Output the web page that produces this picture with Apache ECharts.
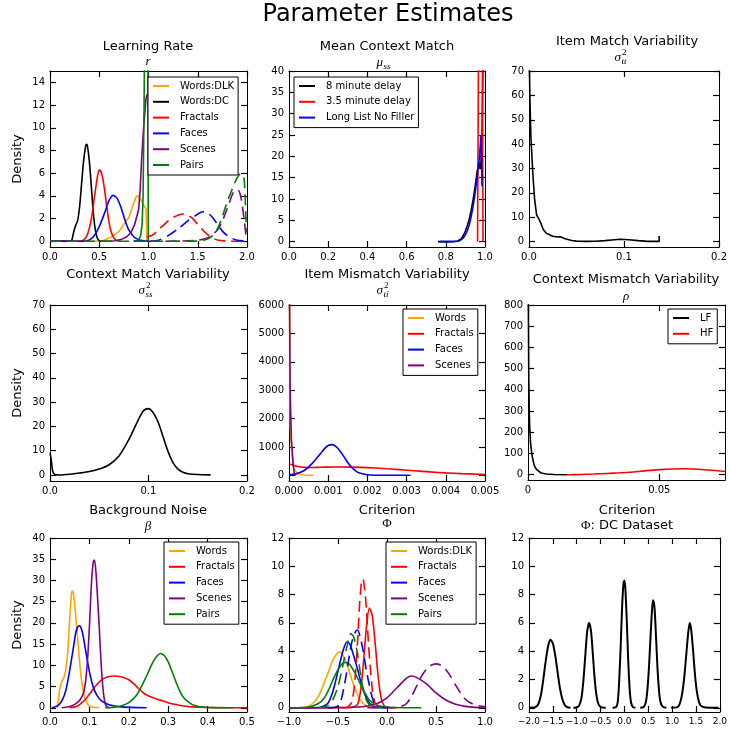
<!DOCTYPE html>
<html><head><meta charset="utf-8">
<script src="https://cdn.jsdelivr.net/npm/echarts@6/dist/echarts.min.js"></script>
<style>html,body{margin:0;padding:0;background:#fff}#c{width:730px;height:733px}</style>
</head><body><div id="c"></div><script>
// ---------------- DATA ----------------
const mainTitle = 'Parameter Estimates';
const panelTitles = ['Learning Rate','Mean Context Match','Item Match Variability','Context Match Variability','Item Mismatch Variability','Context Mismatch Variability','Background Noise','Criterion','Criterion'];

// tick values
const lrXTicks = [0,0.5,1,1.5,2];            const lrYTicks = [0,2,4,6,8,10,12,14];
const mcXTicks = [0,0.2,0.4,0.6,0.8,1];      const mcYTicks = [0,5,10,15,20,25,30,35,40];
const imXTicks = [0,0.1,0.2];                const imYTicks = [0,10,20,30,40,50,60,70];
const cmXTicks = [0,0.1,0.2];                const cmYTicks = [0,10,20,30,40,50,60,70];
const immXTicks = [0,0.001,0.002,0.003,0.004,0.005]; const immYTicks = [0,1000,2000,3000,4000,5000,6000];
const cmmXTicks = [0,0.05];                  const cmmYTicks = [0,100,200,300,400,500,600,700,800];
const bnXTicks = [0,0.1,0.2,0.3,0.4,0.5];    const bnYTicks = [0,5,10,15,20,25,30,35,40];
const crXTicks = [-1,-0.5,0,0.5,1];          const crYTicks = [0,2,4,6,8,10,12];
const dcXTicks = [-2,-1.5,-1,-0.5,0,0.5,1,1.5,2]; const dcYTicks = [0,2,4,6,8,10,12];

// legends
const lrLegend = ['Words:DLK','Words:DC','Fractals','Faces','Scenes','Pairs'];
const mcLegend = ['8 minute delay','3.5 minute delay','Long List No Filler'];
const immLegend = ['Words','Fractals','Faces','Scenes'];
const cmmLegend = ['LF','HF'];
const bnLegend = ['Words','Fractals','Faces','Scenes','Pairs'];
const crLegend = ['Words:DLK','Fractals','Faces','Scenes','Pairs'];

// Learning rate
const lrWordsDLK = [[0,0],[0.5,0],[0.55,0.1],[0.6,0.3],[0.65,0.55],[0.7,0.85],[0.75,1.5],[0.8,2.1],[0.84,3.1],[0.87,3.85],[0.89,4.05],[0.92,3.7],[0.95,3.2],[0.975,2.85],[0.985,0]];
const lrWordsDC = [[0,0],[0.2,0],[0.22,0.05],[0.24,0.8],[0.26,1.4],[0.28,1.8],[0.3,3.0],[0.32,5.0],[0.34,7.0],[0.36,8.3],[0.37,8.55],[0.38,8.4],[0.4,7.0],[0.42,4.8],[0.44,2.5],[0.46,1.0],[0.48,0.3],[0.5,0.05],[0.52,0],[0.6,0]];
const lrFractals = [[0,0],[0.3,0],[0.34,0.1],[0.38,0.6],[0.42,2.0],[0.45,3.8],[0.48,5.6],[0.5,6.3],[0.52,6.1],[0.55,4.8],[0.58,2.8],[0.61,1.2],[0.64,0.4],[0.67,0.1],[0.7,0]];
const lrFaces = [[0,0],[0.3,0],[0.38,0.05],[0.44,0.4],[0.5,1.3],[0.55,2.4],[0.6,3.6],[0.64,4.05],[0.68,3.8],[0.72,3.0],[0.76,1.9],[0.8,1.0],[0.85,0.4],[0.9,0.15],[0.95,0.05],[1.0,0.02]];
const lrScenes = [[0.6,0],[0.66,0.05],[0.72,0.15],[0.78,0.4],[0.82,0.75],[0.86,1.5],[0.9,2.8],[0.915,4.5],[0.93,7.2],[0.95,10],[0.965,11.6],[0.975,12.6],[0.99,13]];
const lrPairs = [[0.85,0],[0.9,0.1],[0.92,0.5],[0.935,1.5],[0.945,4],[0.955,12],[0.962,20],[0.993,20],[0.998,0]];
const lrFractals2 = [[0.98,0.35],[1.05,0.6],[1.1,1.0],[1.15,1.4],[1.2,1.8],[1.25,2.1],[1.3,2.3],[1.35,2.4],[1.4,2.3],[1.45,2.0],[1.5,1.5],[1.55,1.0],[1.6,0.6],[1.65,0.3],[1.7,0.12],[1.8,0.03],[1.9,0],[2.0,0]];
const lrFaces2 = [[0.85,0],[1.0,0.02],[1.1,0.1],[1.2,0.5],[1.3,1.1],[1.4,1.8],[1.5,2.4],[1.55,2.6],[1.6,2.5],[1.65,2.1],[1.7,1.5],[1.75,0.9],[1.8,0.5],[1.85,0.25],[1.9,0.1],[2.0,0.02]];
const lrScenes2 = [[1.0,0],[1.3,0.02],[1.5,0.1],[1.6,0.3],[1.65,0.6],[1.7,1.0],[1.75,1.8],[1.8,2.9],[1.85,4.1],[1.88,4.5],[1.91,4.5],[1.94,3.8],[1.97,2.0],[1.99,0.5],[2.0,0.2]];
const lrPairs2 = [[0,0],[1.5,0.02],[1.6,0.2],[1.65,0.5],[1.7,1.1],[1.75,2.2],[1.8,3.5],[1.85,4.6],[1.9,5.6],[1.94,6.0],[1.97,5.5],[1.985,3],[1.995,0.8]];

// Mean context match
const mc8min = [[0.76,0],[0.82,0],[0.86,0.1],[0.88,0.7],[0.89,1.5],[0.9,2.5],[0.91,3.8],[0.92,5.3],[0.93,7.5],[0.94,10],[0.95,13],[0.96,16.5],[0.97,18.5],[0.975,17],[0.98,19],[0.985,25],[0.99,45]];
const mc35min = [[0.962,0],[0.966,0],[0.968,55],[0.978,60],[0.986,55],[0.99,0]];
const mcLongList = [[0.77,0],[0.84,0],[0.87,0.2],[0.89,0.9],[0.9,1.6],[0.91,2.6],[0.92,4],[0.93,6],[0.94,8.5],[0.95,11.5],[0.96,15],[0.965,17.5],[0.97,19],[0.975,22],[0.98,25],[0.985,13]];

// Item match variability
const imCurve = [[0.0003,75],[0.001,58],[0.002,43],[0.004,28],[0.006,17],[0.008,11],[0.01,9.5],[0.012,8],[0.015,5],[0.018,3.5],[0.02,3.3],[0.025,2.2],[0.03,1.9],[0.033,2],[0.038,1.2],[0.045,0.5],[0.05,0.2],[0.06,0.1],[0.07,0.15],[0.08,0.4],[0.09,0.8],[0.096,1.0],[0.105,0.8],[0.115,0.4],[0.125,0.1],[0.137,0.1],[0.137,2.3]];

// Context match variability
const cmCurve = [[0,9],[0.001,7],[0.002,3.5],[0.003,1.2],[0.005,0.2],[0.01,0],[0.02,0.3],[0.03,0.8],[0.04,1.4],[0.05,2.4],[0.06,4.2],[0.07,7.8],[0.08,14.5],[0.09,23],[0.095,26.5],[0.1,27.3],[0.105,25.5],[0.11,21.5],[0.115,15.5],[0.12,9.5],[0.125,5],[0.13,2.4],[0.135,1.1],[0.14,0.5],[0.15,0.15],[0.163,0.02]];

// Item mismatch variability
const immWords = [[0.00001,7000],[0.00002,3500],[0.000035,1700],[0.00005,1200],[0.00008,800],[0.0001,400],[0.00013,220],[0.00019,100],[0.00028,40],[0.0004,12],[0.00062,0]];
const immFractals = [[0,400],[0.0001,360],[0.0002,320],[0.0004,280],[0.0006,275],[0.0008,285],[0.001,290],[0.0013,295],[0.0016,290],[0.002,270],[0.0024,240],[0.0028,200],[0.0032,160],[0.0036,120],[0.004,85],[0.0044,60],[0.0048,40],[0.005,30]];
const immFaces = [[0,15],[0.0002,60],[0.0004,180],[0.0006,430],[0.0008,760],[0.0009,930],[0.001,1050],[0.0011,1080],[0.0012,1010],[0.0013,860],[0.0014,660],[0.0015,450],[0.0016,280],[0.0017,160],[0.0018,80],[0.002,20],[0.0023,3],[0.0031,0]];
const immScenes = [[0.00001,7000],[0.00003,3000],[0.00006,1300],[0.00009,700],[0.00011,350],[0.00013,120],[0.00015,20],[0.00017,0]];

// Context mismatch variability
const cmmLF = [[0.0001,900],[0.0003,450],[0.0005,285],[0.0007,210],[0.001,145],[0.0015,95],[0.002,63],[0.0025,40],[0.0033,24],[0.004,15],[0.005,8],[0.007,3],[0.01,1],[0.015,0]];
const cmmHF = [[0.015,0],[0.02,1],[0.025,3],[0.03,6],[0.035,9],[0.04,13],[0.045,19],[0.05,24],[0.055,27],[0.06,28],[0.065,26],[0.07,21],[0.075,15]];

// Background noise
const bnWords = [[0.017,0],[0.02,1],[0.025,4.5],[0.03,6.2],[0.035,7],[0.04,9],[0.045,13],[0.05,21],[0.055,27.3],[0.058,27.5],[0.062,25],[0.066,21],[0.07,16.5],[0.075,11],[0.08,6.5],[0.085,3.5],[0.09,1.8],[0.1,0.4],[0.11,0.1],[0.125,0]];
const bnFractals = [[0.05,0],[0.07,0.4],[0.09,2],[0.1,3.2],[0.12,5.6],[0.14,7.1],[0.16,7.5],[0.18,7.3],[0.2,6.6],[0.22,5],[0.24,3.3],[0.26,2.4],[0.28,1.8],[0.3,1.2],[0.32,0.75],[0.34,0.4],[0.36,0.2],[0.4,0.05],[0.45,0],[0.5,0]];
const bnFaces = [[0.005,0],[0.02,0.5],[0.03,1.6],[0.04,4],[0.05,8.8],[0.06,14.5],[0.065,17.5],[0.07,19],[0.075,19.3],[0.08,18.5],[0.085,16.5],[0.09,13.7],[0.1,8.5],[0.11,4.8],[0.12,2.8],[0.13,1.7],[0.15,0.7],[0.18,0.2],[0.245,0]];
const bnScenes = [[0.03,0],[0.05,0.3],[0.065,0.9],[0.075,1.7],[0.085,3.5],[0.09,6],[0.095,11],[0.1,19],[0.105,29],[0.11,34.5],[0.113,34.8],[0.117,31.5],[0.12,27],[0.125,19],[0.13,10],[0.135,4],[0.14,1],[0.145,0.2],[0.15,0]];
const bnPairs = [[0.14,0],[0.16,0.1],[0.18,0.4],[0.2,1.2],[0.22,3],[0.24,6.5],[0.26,10.5],[0.27,12],[0.28,12.8],[0.29,12.3],[0.3,10.8],[0.31,8.5],[0.32,6],[0.33,3.8],[0.34,2.3],[0.36,0.8],[0.38,0.25],[0.42,0.02],[0.465,0]];

// Criterion
const crWordsDLK = [[-1,0],[-0.85,0.02],[-0.8,0.1],[-0.75,0.35],[-0.7,0.8],[-0.65,1.6],[-0.6,2.5],[-0.55,3.4],[-0.5,3.9],[-0.48,3.95],[-0.45,3.7],[-0.4,2.9],[-0.35,1.8],[-0.3,0.9],[-0.25,0.35],[-0.2,0.1],[-0.15,0.02],[-0.1,0]];
const crFractals = [[-1,0],[-0.4,0],[-0.35,0.03],[-0.3,0.25],[-0.27,1.2],[-0.24,3.2],[-0.21,5.7],[-0.18,7.05],[-0.15,6.5],[-0.12,4.5],[-0.09,2.2],[-0.06,0.7],[-0.03,0.15],[0,0.02],[0.1,0]];
const crFaces = [[-1,0],[-0.7,0.02],[-0.65,0.1],[-0.6,0.35],[-0.55,1.2],[-0.5,2.6],[-0.45,4.0],[-0.41,4.65],[-0.38,4.5],[-0.35,3.9],[-0.3,2.7],[-0.25,1.4],[-0.2,0.55],[-0.15,0.15],[-0.1,0.03],[0,0]];
const crScenes = [[-1,0],[-0.6,0.01],[-0.3,0.05],[-0.2,0.12],[-0.1,0.3],[0,0.7],[0.1,1.4],[0.2,2.1],[0.25,2.25],[0.3,2.15],[0.4,1.7],[0.5,1.05],[0.6,0.55],[0.7,0.25],[0.8,0.1],[0.9,0.03],[1.0,0.01]];
const crPairs = [[-1,0],[-0.8,0.05],[-0.7,0.3],[-0.65,0.6],[-0.6,1.2],[-0.55,2.0],[-0.5,2.7],[-0.45,3.15],[-0.42,3.2],[-0.38,3.05],[-0.33,2.5],[-0.28,1.8],[-0.23,1.1],[-0.18,0.55],[-0.12,0.25],[-0.05,0.08],[0.05,0.02],[0.35,0]];
const crFractals2 = [[-0.45,0],[-0.4,0.05],[-0.36,0.4],[-0.33,1.7],[-0.3,4.7],[-0.28,7.3],[-0.26,8.9],[-0.245,9.1],[-0.23,8.5],[-0.21,7.0],[-0.19,4.6],[-0.17,2.8],[-0.15,1.3],[-0.13,0.5],[-0.1,0.1],[-0.05,0]];
const crFaces2 = [[-0.6,0],[-0.52,0.05],[-0.48,0.3],[-0.44,1.4],[-0.4,3.0],[-0.36,4.6],[-0.32,5.4],[-0.3,5.5],[-0.27,4.9],[-0.24,3.9],[-0.21,2.6],[-0.18,1.6],[-0.15,0.7],[-0.12,0.2],[-0.08,0.03],[-0.02,0]];
const crPairs2 = [[-0.7,0],[-0.6,0.15],[-0.55,0.6],[-0.5,1.5],[-0.45,3.0],[-0.4,4.6],[-0.37,5.25],[-0.34,5.0],[-0.3,3.8],[-0.26,1.9],[-0.22,0.7],[-0.18,0.2],[-0.12,0.03],[-0.05,0]];
const crScenes2 = [[-0.2,0],[0.1,0.02],[0.15,0.1],[0.2,0.3],[0.25,0.8],[0.3,1.5],[0.35,2.2],[0.4,2.7],[0.45,3.0],[0.5,3.1],[0.55,3.0],[0.6,2.7],[0.65,2.2],[0.7,1.6],[0.75,1.05],[0.8,0.6],[0.85,0.35],[0.9,0.2],[0.95,0.12],[1.0,0.07]];

// Criterion DC dataset
const dcPeak1 = [[-2.0,0],[-1.9,0.01],[-1.85,0.08],[-1.8,0.3],[-1.75,0.9],[-1.7,2.0],[-1.65,3.3],[-1.6,4.35],[-1.55,4.8],[-1.5,4.55],[-1.45,3.7],[-1.4,2.5],[-1.35,1.35],[-1.3,0.6],[-1.25,0.2],[-1.2,0.05],[-1.13,0]];
const dcPeak2 = [[-1.07,0],[-1.0,0.02],[-0.95,0.15],[-0.9,0.7],[-0.86,1.9],[-0.82,3.7],[-0.78,5.4],[-0.74,6.0],[-0.7,5.4],[-0.66,3.7],[-0.62,1.9],[-0.58,0.75],[-0.54,0.22],[-0.48,0.03],[-0.39,0]];
const dcPeak3 = [[-0.25,0],[-0.18,0.03],[-0.14,0.4],[-0.11,1.9],[-0.08,4.2],[-0.05,7.0],[-0.02,8.8],[0.0,9.0],[0.02,8.4],[0.05,6.1],[0.08,3.3],[0.11,1.3],[0.14,0.35],[0.18,0.05],[0.23,0]];
const dcPeak4 = [[0.33,0],[0.4,0.05],[0.45,0.4],[0.49,1.6],[0.52,3.2],[0.55,5.2],[0.58,7.0],[0.6,7.6],[0.63,7.1],[0.66,5.2],[0.69,3.0],[0.72,1.4],[0.75,0.5],[0.8,0.08],[0.88,0]];
const dcPeak5 = [[0.98,0],[1.1,0.03],[1.15,0.2],[1.2,0.8],[1.25,2.0],[1.3,3.9],[1.34,5.4],[1.37,6.0],[1.4,5.5],[1.44,4.0],[1.48,2.3],[1.52,1.1],[1.56,0.45],[1.6,0.15],[1.7,0.02],[1.97,0]];

// ---------------- BUILD ----------------
const SANS = 'DejaVu Sans';
const SERIF = 'Liberation Serif';
const COL = {'Words:DLK':'#FFA500','Words':'#FFA500','Words:DC':'#000000','Fractals':'#FF0000','Faces':'#0000FF','Scenes':'#800080','Pairs':'#008000',
  '8 minute delay':'#000000','3.5 minute delay':'#FF0000','Long List No Filler':'#0000FF','LF':'#000000','HF':'#FF0000'};

const grids = [
  {left:50,top:71,width:197,height:176},{left:289,top:71,width:196,height:176},{left:529,top:71,width:196,height:176},
  {left:50,top:305,width:197,height:176},{left:289,top:305,width:196,height:176},{left:528,top:305,width:197,height:175},
  {left:50,top:538,width:197,height:174},{left:289,top:538,width:196,height:174},{left:529,top:538,width:196,height:174}
];
const axCfg = [
  {xr:[0,2],yr:[-0.5,15],xt:lrXTicks,yt:lrYTicks,d:1},
  {xr:[0,1],yr:[-1.25,40],xt:mcXTicks,yt:mcYTicks,d:1},
  {xr:[0,0.2],yr:[-2.2,70],xt:imXTicks,yt:imYTicks,d:1},
  {xr:[0,0.2],yr:[-2.5,70],xt:cmXTicks,yt:cmYTicks,d:1},
  {xr:[0,0.005],yr:[-200,6000],xt:immXTicks,yt:immYTicks,d:3},
  {xr:[0,0.075],yr:[-25,800],xt:cmmXTicks,yt:cmmYTicks,d:null},
  {xr:[0,0.5],yr:[-1,40],xt:bnXTicks,yt:bnYTicks,d:1},
  {xr:[-1,1],yr:[-0.3,12],xt:crXTicks,yt:crYTicks,d:1},
  {xr:[-2,2],yr:[-0.3,12],xt:dcXTicks,yt:dcYTicks,d:1,xfs:9}
];
function fmt(v,d){ let s = (d===null) ? String(v) : Number(v).toFixed(d); if (Math.abs(v) < 1e-12) s = (d===null)?'0':(0).toFixed(d); return s.replace('-','\u2212'); }

const xAxes = [], yAxes = [];
axCfg.forEach((c,gi)=>{
  const mk = (dim, pos, showLabel) => {
    const ticks = dim==='x' ? c.xt : c.yt;
    const r = dim==='x' ? c.xr : c.yr;
    return {
      type:'value', gridIndex:gi, position:pos, min:r[0], max:r[1], scale:false,
      splitLine:{show:false},
      axisLine:{show:true,onZero:false,lineStyle:{color:'#000',width:1}},
      axisTick:{show:true,inside:true,length:6,interval:0,customValues:ticks,lineStyle:{color:'#000',width:1.2}},
      axisLabel: showLabel ? {show:true,customValues:ticks,interval:0,showMinLabel:true,showMaxLabel:true,hideOverlap:false,
          formatter:(v)=> dim==='x' ? fmt(v,c.d) : fmt(v,null),
          fontFamily:SANS,fontSize:(dim==='x' && c.xfs) ? c.xfs : 10,color:'#000',margin:5} : {show:false}
    };
  };
  xAxes.push(mk('x','bottom',true)); xAxes.push(mk('x','top',false));
  yAxes.push(mk('y','left',true));   yAxes.push(mk('y','right',false));
});

const series = [];
function line(gi, name, data, color, opts){
  opts = opts || {};
  series.push({
    type:'line', name, data, xAxisIndex:2*gi, yAxisIndex:2*gi,
    symbol:'none', showSymbol:false, clip:true, animation:false,
    smooth: opts.smooth===false ? false : 0.25,
    lineStyle:{color, width: opts.w || 1.6, type: opts.dash ? [11,6] : 'solid'},
    itemStyle:{color}, z: opts.z || 2
  });
}
// panel 0
line(0,'Words:DLK',lrWordsDLK,COL['Words:DLK'],{smooth:false});
line(0,'Words:DC',lrWordsDC,COL['Words:DC']);
line(0,'Fractals',lrFractals,COL['Fractals']);
line(0,'Faces',lrFaces,COL['Faces']);
line(0,'Scenes',lrScenes,COL['Scenes'],{smooth:false});
line(0,'Pairs',lrPairs,COL['Pairs'],{smooth:false});
line(0,'Fractals (2)',lrFractals2,COL['Fractals'],{dash:true});
line(0,'Faces (2)',lrFaces2,COL['Faces'],{dash:true});
line(0,'Scenes (2)',lrScenes2,COL['Scenes'],{dash:true});
line(0,'Pairs (2)',lrPairs2,COL['Pairs'],{dash:true});
// panel 1
line(1,'8 minute delay',mc8min,COL['8 minute delay'],{smooth:false});
line(1,'3.5 minute delay',mc35min,COL['3.5 minute delay'],{smooth:false});
line(1,'Long List No Filler',mcLongList,COL['Long List No Filler'],{smooth:false});
// panel 2,3
line(2,'Item Match',imCurve,'#000',{smooth:false});
line(3,'Context Match',cmCurve,'#000');
// panel 4
line(4,'Words',immWords,COL['Words'],{smooth:false});
line(4,'Fractals',immFractals,COL['Fractals']);
line(4,'Faces',immFaces,COL['Faces']);
line(4,'Scenes',immScenes,COL['Scenes'],{smooth:false});
// panel 5
line(5,'LF',cmmLF,COL['LF'],{smooth:false});
line(5,'HF',cmmHF,COL['HF']);
// panel 6
line(6,'Words',bnWords,COL['Words']);
line(6,'Fractals',bnFractals,COL['Fractals']);
line(6,'Faces',bnFaces,COL['Faces']);
line(6,'Scenes',bnScenes,COL['Scenes']);
line(6,'Pairs',bnPairs,COL['Pairs']);
// panel 7
line(7,'Words:DLK',crWordsDLK,COL['Words:DLK']);
line(7,'Fractals',crFractals,COL['Fractals']);
line(7,'Faces',crFaces,COL['Faces']);
line(7,'Scenes',crScenes,COL['Scenes']);
line(7,'Pairs',crPairs,COL['Pairs']);
line(7,'Fractals (2)',crFractals2,COL['Fractals'],{dash:true});
line(7,'Faces (2)',crFaces2,COL['Faces'],{dash:true});
line(7,'Scenes (2)',crScenes2,COL['Scenes'],{dash:true});
line(7,'Pairs (2)',crPairs2,COL['Pairs'],{dash:true});
// panel 8
[dcPeak1,dcPeak2,dcPeak3,dcPeak4,dcPeak5].forEach((d,i)=>line(8,'DC '+(i+1),d,'#000',{w:2}));

function legend(names, left, top){
  return {
    orient:'vertical', left, top, selectedMode:false, z:10,
    data: names.map(n=>({name:n, icon:'rect', itemStyle:{color:COL[n], borderWidth:0}})),
    itemWidth:16, itemHeight:2, itemGap:1.8,
    textStyle:{fontFamily:SANS,fontSize:10,color:'#000',lineHeight:14,padding:[0,0,0,6]},
    padding:[2,4,3,5], borderColor:'#000', borderWidth:1, backgroundColor:'#fff', borderRadius:0
  };
}
const legends = [
  legend(lrLegend,148,77), legend(mcLegend,294,77), legend(immLegend,403,309),
  legend(cmmLegend,668,309), legend(bnLegend,164,542), legend(crLegend,386,542)
];

// text graphics
const graphics = [];
function txt(x,y,text,font,extra){
  graphics.push(Object.assign({type:'text', x, y, silent:true,
    style:{text, font, fill:'#000', textAlign:'center', textVerticalAlign:'middle'}}, extra||{}));
}
txt(388,15,mainTitle,'24px "'+SANS+'"');
const titleXY = [[148,47],[387,47],[627,41.5],[148,275],[387,274.5],[626,280],[148,510.7],[387,510.7],[627,510.7]];
panelTitles.forEach((t,i)=>txt(titleXY[i][0],titleXY[i][1],t,'13px "'+SANS+'"'));
['Density','Density','Density'].forEach((t,i)=>{
  const g = grids[i*3];
  graphics.push({type:'text', x:18, y:g.top+g.height/2, rotation:Math.PI/2, silent:true,
    style:{text:t, font:'13px "'+SANS+'"', fill:'#000', textAlign:'center', textVerticalAlign:'middle'}});
});
const MI = 'italic 13px "'+SERIF+'"', MS = 'italic 9px "'+SERIF+'"', MU = '13px "'+SERIF+'"';
function mathSym(cx, cy, base, sup, sub){
  graphics.push({type:'text', x:cx+1, y:cy, silent:true, style:{text:base, font:MI, fill:'#000', textAlign:'right', textVerticalAlign:'middle'}});
  if (sup) graphics.push({type:'text', x:cx+2, y:cy-5, silent:true, style:{text:sup, font:'9px "'+SERIF+'"', fill:'#000', textAlign:'left', textVerticalAlign:'middle'}});
  if (sub) graphics.push({type:'text', x:cx+1.5, y:cy+4, silent:true, style:{text:sub, font:MS, fill:'#000', textAlign:'left', textVerticalAlign:'middle'}});
}
txt(148,62,'r',MI);
mathSym(382,63,'\u03bc',null,'ss');
mathSym(620,58,'\u03c3','2','tt');
mathSym(144,291,'\u03c3','2','ss');
mathSym(382,291,'\u03c3','2','ti');
txt(626,297,'\u03c1',MI);
txt(148,526.5,'\u03b2',MI);
txt(387,524,'\u03a6',MU);
graphics.push({type:'text', x:627, y:526, silent:true, style:{
  text:'{p|\u03a6}{s|: DC Dataset}', textAlign:'center', textVerticalAlign:'middle',
  rich:{p:{font:MU, fill:'#000'}, s:{font:'13px "'+SANS+'"', fill:'#000'}}}});

const chart = echarts.init(document.getElementById('c'), null, {renderer:'canvas'});
chart.setOption({
  animation:false, backgroundColor:'#fff',
  grid: grids, xAxis: xAxes, yAxis: yAxes, series, legend: legends, graphic: graphics
});
</script></body></html>
